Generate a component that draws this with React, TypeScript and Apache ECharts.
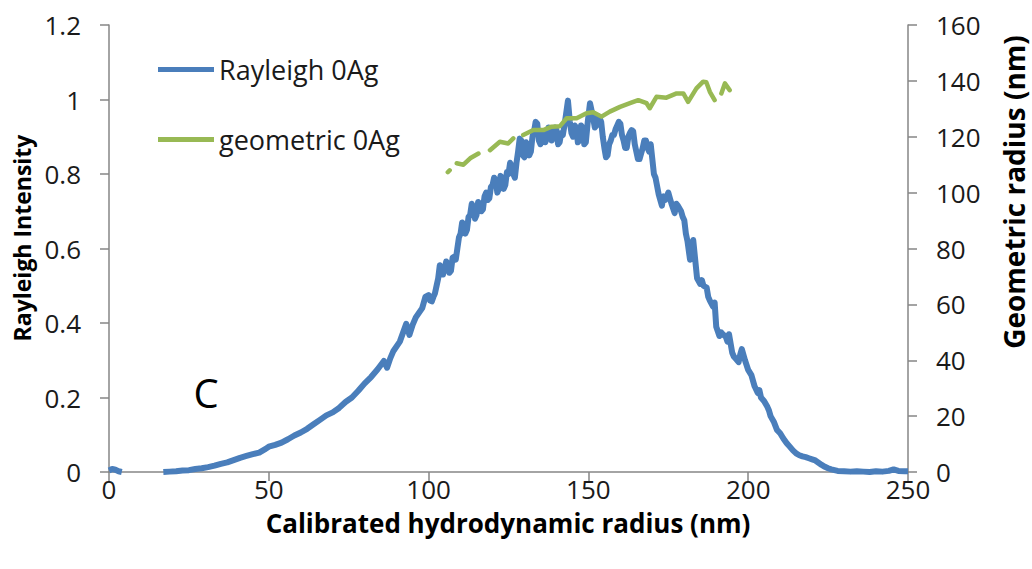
import React, { useEffect, useRef } from "react";
import * as echarts from "echarts";

// Rayleigh intensity vs calibrated hydrodynamic radius (nm); null = gap
const rayleighX = [
  0, 1, 2, 3, 4, 10,
  17, 19, 21, 23, 25, 27, 29, 31, 33, 35, 37, 39, 41, 43, 45, 47, 49, 50,
  52, 54, 56, 58, 60, 62, 64, 66, 68, 70, 72, 74, 76, 78, 80, 82, 84, 86,
  87, 88, 89, 91, 93, 94, 95, 96, 98, 99,
  100, 100.5, 101, 101.5, 102, 102.5, 103, 103.5, 104, 104.5, 105, 105.5,
  106, 106.5, 107, 107.5, 108, 108.5, 109, 109.5, 110, 110.5, 111, 111.5,
  112, 112.5, 113, 113.5, 114, 114.5, 115, 115.5, 116, 116.5, 117, 117.5,
  118, 118.5, 119, 119.5, 120, 120.5, 121, 121.5, 122, 122.5, 123, 123.5,
  124, 124.5, 125, 125.5, 126, 126.5, 127, 127.5, 128, 128.5, 129, 129.5,
  130, 130.5, 131, 131.5, 132, 132.5, 133, 133.5, 134, 134.5, 135, 135.5,
  136, 136.5, 137, 137.5, 138, 138.5, 139, 139.5, 140, 140.5, 141, 141.5,
  142, 142.5, 143, 143.6, 144.2, 144.7, 145.2, 145.7, 146.2, 146.7, 147.2,
  147.7, 148.2, 148.7, 149.2, 149.8, 150.5, 151, 151.5, 152, 152.5, 153,
  153.5, 154, 154.5, 155, 155.5, 156, 156.5, 157, 157.5, 158, 158.5, 159,
  159.5, 160, 160.5, 161, 161.5, 162, 162.5, 163, 163.5, 164, 164.5, 165,
  165.5, 166, 166.5, 167, 167.5, 168, 168.5, 169, 169.5, 170, 170.5,
  171, 172, 173, 173.5, 174, 175, 175.5, 176, 177, 177.5, 178, 179, 179.5,
  180, 180.5, 181, 181.8, 182.8, 183.3, 184, 185, 185.5, 186, 187, 187.5, 188,
  189, 189.5, 190, 191, 191.5, 192, 193, 193.5, 194, 195, 195.5, 196, 197,
  197.5, 198, 199, 200, 201, 202, 203, 203.5, 204, 205, 206, 206.5, 207, 208,
  209, 210, 211, 212, 213, 214, 215, 216, 217, 218, 219, 220, 221,
  222, 223, 224, 225, 226, 227, 228, 230, 232, 234, 236, 238, 240, 242, 244,
  245.5, 247, 249, 250,
];
const rayleighY = [
  0.004, 0.008, 0.006, 0.002, 0.0, null,
  0.0, 0.001, 0.002, 0.004, 0.005, 0.008, 0.01, 0.013, 0.017, 0.022, 0.026,
  0.032, 0.038, 0.043, 0.048, 0.052, 0.062, 0.068,
  0.073, 0.079, 0.088, 0.098, 0.106, 0.116, 0.128, 0.14, 0.152, 0.16, 0.172,
  0.188, 0.2, 0.218, 0.238, 0.255, 0.275, 0.298,
  0.28, 0.305, 0.325, 0.35, 0.398, 0.368, 0.395, 0.415, 0.44, 0.47,
  0.475, 0.46, 0.458, 0.47, 0.48, 0.5, 0.52, 0.555, 0.55, 0.53, 0.545, 0.565,
  0.56, 0.535, 0.54, 0.575, 0.578, 0.57, 0.6, 0.63, 0.64, 0.67, 0.665, 0.64,
  0.65, 0.685, 0.69, 0.72, 0.712, 0.68, 0.69, 0.725, 0.72, 0.7, 0.705, 0.74,
  0.75, 0.73, 0.735, 0.765, 0.77, 0.79, 0.785, 0.75, 0.76, 0.795, 0.79, 0.76,
  0.77, 0.805, 0.8, 0.83, 0.822, 0.8, 0.79, 0.83, 0.86, 0.895, 0.89, 0.85,
  0.845, 0.885, 0.88, 0.85, 0.86, 0.9, 0.915, 0.94, 0.935, 0.89, 0.88, 0.915,
  0.91, 0.885, 0.895, 0.925, 0.92, 0.89, 0.9, 0.925, 0.918, 0.88, 0.885, 0.91,
  0.905, 0.93, 0.96, 0.997, 0.94, 0.91, 0.9, 0.93, 0.925, 0.885, 0.89,
  0.93, 0.925, 0.88, 0.885, 0.94, 0.99, 0.97, 0.95, 0.925, 0.93, 0.955,
  0.95, 0.94, 0.9, 0.87, 0.845, 0.85, 0.88, 0.89, 0.905, 0.905, 0.92, 0.93,
  0.94, 0.935, 0.905, 0.89, 0.87, 0.87, 0.9, 0.91, 0.918, 0.915, 0.88, 0.86,
  0.84, 0.84, 0.855, 0.87, 0.89, 0.89, 0.87, 0.86, 0.88, 0.84, 0.8,
  0.79, 0.745, 0.715, 0.74, 0.73, 0.75, 0.735, 0.72, 0.695, 0.72, 0.715, 0.7, 0.685,
  0.676, 0.64, 0.62, 0.57, 0.623, 0.58, 0.52, 0.505, 0.515, 0.5, 0.495, 0.47, 0.46,
  0.444, 0.455, 0.39, 0.365, 0.375, 0.37, 0.363, 0.35, 0.37, 0.32, 0.31, 0.305, 0.295,
  0.315, 0.33, 0.3, 0.274, 0.26, 0.23, 0.212, 0.22, 0.2, 0.19, 0.175, 0.165, 0.15, 0.135,
  0.113, 0.104, 0.09, 0.078, 0.068, 0.058, 0.05, 0.045, 0.042, 0.04, 0.037, 0.034, 0.031,
  0.025, 0.019, 0.014, 0.01, 0.007, 0.005, 0.003, 0.002, 0.001, 0.002, 0.001,
  0.0, 0.002, 0.001, 0.003,
  0.007, 0.003, 0.002, 0.002,
];

// Geometric radius (nm) vs calibrated hydrodynamic radius (nm); null = gap
const geoX = [
  106, 106.6, 107.6, 108.8, 110.9, 113, 115.6, 117.4, 119.2, 122.3, 124.9, 126.5,
  128, 129.6, 132.8, 135.9, 138.5, 141.1, 143.2, 146.3, 149.4, 151.5, 154.1,
  156.7, 159.9, 163, 165.6, 168.2, 169.2, 171.3, 174.4, 177.6, 179.7, 181.2,
  183.8, 185.9, 186.9, 188, 189.5, 190.5, 191.6, 192.7, 194.2,
];
const geoY = [
  107.3, 108, null, 110.5, 110, 112.3, 114, null, 115.2, 118.2, 117.6, 119.4,
  null, 120.6, 122.4, 122.4, 123.6, 123.8, 126.6, 126.6, 128.4, 128.8, 127.2,
  129, 130.7, 132, 133.1, 132, 130.2, 134.3, 134, 135.5, 135.5, 132.5,
  137.3, 139.7, 139.5, 136.1, 133.1, null, 135.5, 139.1, 136.7,
];

const xTicks = { min: 0, max: 250, interval: 50 };
const leftTicks = { min: 0, max: 1.2, interval: 0.2 };
const rightTicks = { min: 0, max: 160, interval: 20 };

const FONT = "'Open Sans', 'Noto Sans', sans-serif";
const AXIS_COLOR = "#868686";

export default function App() {
  const ref = useRef<HTMLDivElement>(null);

  useEffect(() => {
    document.body.style.margin = "0";
    if (!ref.current) return;
    const chart = echarts.init(ref.current, undefined, { renderer: "svg" });

    const pairs = (xs: number[], ys: (number | null)[]) =>
      xs.map((x, i) => [x, ys[i] === null ? "-" : ys[i]]);

    const axisCommon = {
      axisLine: { show: true, lineStyle: { color: AXIS_COLOR, width: 1.5 } },
      axisTick: { show: true, length: 9, lineStyle: { color: AXIS_COLOR, width: 1.5 } },
      splitLine: { show: false },
      axisLabel: { color: "#1a1a1a", fontFamily: FONT, fontSize: 26 },
    };

    chart.setOption({
      animation: false,
      backgroundColor: "#ffffff",
      textStyle: { fontFamily: FONT },
      grid: { left: 109, right: 124, top: 25, bottom: 97, containLabel: false },
      legend: {
        orient: "vertical",
        left: 153,
        top: 51,
        itemWidth: 56,
        itemHeight: 5,
        itemGap: 43,
        icon: "rect",
        textStyle: { fontFamily: FONT, fontSize: 27, color: "#1a1a1a" },
        data: ["Rayleigh 0Ag", "geometric 0Ag"],
      },
      xAxis: {
        type: "value",
        ...xTicks,
        ...axisCommon,
        axisLabel: { ...axisCommon.axisLabel, margin: 4 },
      },
      yAxis: [
        {
          type: "value",
          position: "left",
          ...leftTicks,
          ...axisCommon,
          axisLabel: { ...axisCommon.axisLabel, margin: 28 },
        },
        {
          type: "value",
          position: "right",
          ...rightTicks,
          ...axisCommon,
          axisLabel: { ...axisCommon.axisLabel, margin: 28 },
        },
      ],
      series: [
        {
          name: "Rayleigh 0Ag",
          type: "line",
          yAxisIndex: 0,
          data: pairs(rayleighX, rayleighY),
          symbol: "none",
          connectNulls: false,
          lineStyle: { color: "#4A7EBB", width: 6, join: "round" },
          itemStyle: { color: "#4A7EBB" },
          z: 2,
        },
        {
          name: "geometric 0Ag",
          type: "line",
          yAxisIndex: 1,
          data: pairs(geoX, geoY),
          symbol: "none",
          connectNulls: false,
          lineStyle: { color: "#98B954", width: 4.5, cap: "round", join: "round" },
          itemStyle: { color: "#98B954" },
          z: 3,
        },
      ],
      graphic: [
        {
          type: "text",
          x: 22,
          y: 238,
          rotation: Math.PI / 2,
          style: {
            text: "Rayleigh Intensity",
            font: `bold 23px ${FONT}`,
            fill: "#000000",
            textAlign: "center",
            textVerticalAlign: "middle",
          },
        },
        {
          type: "text",
          x: 1014,
          y: 192,
          rotation: Math.PI / 2,
          style: {
            text: "Geometric radius (nm)",
            font: `bold 28px ${FONT}`,
            fill: "#000000",
            textAlign: "center",
            textVerticalAlign: "middle",
          },
        },
        {
          type: "text",
          x: 508,
          y: 523,
          style: {
            text: "Calibrated hydrodynamic radius (nm)",
            font: `bold 26px ${FONT}`,
            fill: "#000000",
            textAlign: "center",
            textVerticalAlign: "middle",
          },
        },
        {
          type: "text",
          x: 206,
          y: 392,
          style: {
            text: "C",
            font: `40px ${FONT}`,
            fill: "#000000",
            textAlign: "center",
            textVerticalAlign: "middle",
          },
        },
      ],
    });

    return () => chart.dispose();
  }, []);

  return <div ref={ref} style={{ width: 1032, height: 569 }} />;
}
